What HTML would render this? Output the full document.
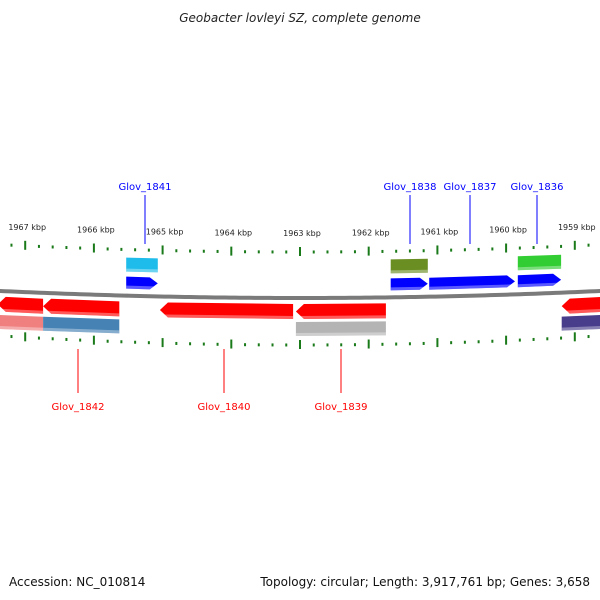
<!DOCTYPE html>
<html><head><meta charset="utf-8"><style>
html,body{margin:0;padding:0;background:#fff;}
svg{display:block;font-family:"DejaVu Sans","Liberation Sans",sans-serif;}
</style></head><body>
<svg id="map" width="600" height="600" viewBox="0 0 600 600">
<text x="300" y="22" text-anchor="middle" font-size="12" font-style="italic" fill="#222">Geobacter lovleyi SZ, complete genome</text>
<text x="9" y="586" font-size="12" fill="#111">Accession: NC_010814</text>
<text x="590" y="586" text-anchor="end" font-size="12" fill="#111">Topology: circular; Length: 3,917,761 bp; Genes: 3,658</text>
</svg>
<script>
const tickKbp = [1967,1966,1965,1964,1963,1962,1961,1960,1959];
const geneNames = ["", "Glov_1842","Glov_1841","Glov_1840","Glov_1839","Glov_1838","Glov_1837","Glov_1836",""];
const geneStart = [1967.40,1966.74,1965.53,1965.04,1963.06,1961.68,1961.12,1959.83,1959.19];
const geneEnd   = [1966.74,1965.63,1965.07,1963.10,1961.75,1961.14,1959.87,1959.20,1958.60];
const geneStrand = [-1,-1,1,-1,-1,1,1,1,-1];
const geneCogColor = ["#f08080","#4682b4","#1ebcea","", "#b4b4b4","#6b8e23","","#32cd32","#483d8b"];
const geneLabelX = [null,78,145,224,341,410,470,537,null];

const svg = document.getElementById('map');
const NS = "http://www.w3.org/2000/svg";
const xOf = k => 300 + (1963 - k) * 68.7;
const dy = x => -((x - 300) * (x - 300)) / 12800;
function el(tag, attrs, name){
  const e = document.createElementNS(NS, tag);
  for (const k in attrs) e.setAttribute(k, attrs[k]);
  return e;
}
// backbone
const bb = [];
for (let x = -5; x <= 605; x += 5) bb.push(x + "," + (298 + dy(x)).toFixed(2));
const back = el('polyline', {points: bb.join(' '), fill: 'none', stroke: '#7a7a7a', 'stroke-width': 4});


svg.appendChild(back);

// ticks
for (let k = 1967.6; k >= 1958.4; k -= 0.2) {
  const kk = Math.round(k * 10) / 10;
  const x = xOf(kk);
  if (x < -2 || x > 602) continue;
  const major = Math.abs(kk - Math.round(kk)) < 0.01;
  [[252, 'top'], [345, 'bottom']].forEach(([yc, pos]) => {
    const y = yc + dy(x) * (pos === 'top' ? 1.05 : 1.3);
    const t = el('rect', {x: x - 1, y: major ? y - 5 : y - 1.5, width: 2, height: major ? 9 : 3, fill: '#1a7a1a'});
    
    
    svg.appendChild(t);
  });
}
tickKbp.forEach(k => {
  const x = xOf(k);
  const t = el('text', {x: x + 2, y: 236 + dy(x) * 1.05, 'text-anchor': 'middle', 'font-size': 8, fill: '#222'});
  t.textContent = k + " kbp";
  
  
  svg.appendChild(t);
});

function band(x1, x2, top, h, fill, dir, name){
  const a = Math.min(x1, x2), b = Math.max(x1, x2);
  const head = dir ? 8 : 0;
  let pts;
  const ya = dy(a), yb = dy(b);
  if (dir === 1) pts = [[a, top + ya], [b - head, top + yb], [b, top + h / 2 + yb], [b - head, top + h + yb], [a, top + h + ya]];
  else if (dir === -1) pts = [[a, top + h / 2 + ya], [a + head, top + ya], [b, top + yb], [b, top + h + yb], [a + head, top + h + ya]];
  else pts = [[a, top + ya], [b, top + yb], [b, top + h + yb], [a, top + h + ya]];
  const p = el('polygon', {points: pts.map(q => q[0].toFixed(1) + "," + q[1].toFixed(1)).join(' '), fill: fill});
  
  
  svg.appendChild(p);
  const s = el('polygon', {points: [[a + (dir === -1 ? head / 2 : 0), top + h - 3 + ya], [b - (dir === 1 ? head / 2 : 0), top + h - 3 + yb], [b - (dir === 1 ? head : 0), top + h + yb], [a + (dir === -1 ? head : 0), top + h + ya]].map(q => q[0].toFixed(1) + "," + q[1].toFixed(1)).join(' '), fill: '#ffffff', 'fill-opacity': 0.35});
  
  
  svg.appendChild(s);
}

geneStart.forEach((s, i) => {
  const x1 = xOf(s), x2 = xOf(geneEnd[i]);
  const fwd = geneStrand[i] === 1;
  const nm = geneNames[i] ? geneNames[i].toLowerCase().replace('_', '-') : 'gene-' + i;
  band(x1, x2, fwd ? 279 : 304, fwd ? 12 : 15, fwd ? '#0000ff' : '#ff0000', fwd ? 1 : -1, nm + '-arrow');
  if (geneCogColor[i]) band(x1, x2, fwd ? 260 : 322, 14, geneCogColor[i], 0, nm + '-cog-box');
  if (geneLabelX[i] !== null) {
    const lx = geneLabelX[i];
    const col = fwd ? '#0000ff' : '#ff0000';
    const ln = fwd ? el('line', {x1: lx, y1: 195, x2: lx, y2: 244, stroke: col, 'stroke-width': 1})
                   : el('line', {x1: lx, y1: 349, x2: lx, y2: 393, stroke: col, 'stroke-width': 1});
    
    
    svg.appendChild(ln);
    const ty = fwd ? 190 : 410;
    const t = el('text', {x: lx, y: ty, 'text-anchor': 'middle', 'font-size': 10, fill: col});
    t.textContent = geneNames[i];
    
    
    svg.appendChild(t);
  }
});
</script>
</body></html>
